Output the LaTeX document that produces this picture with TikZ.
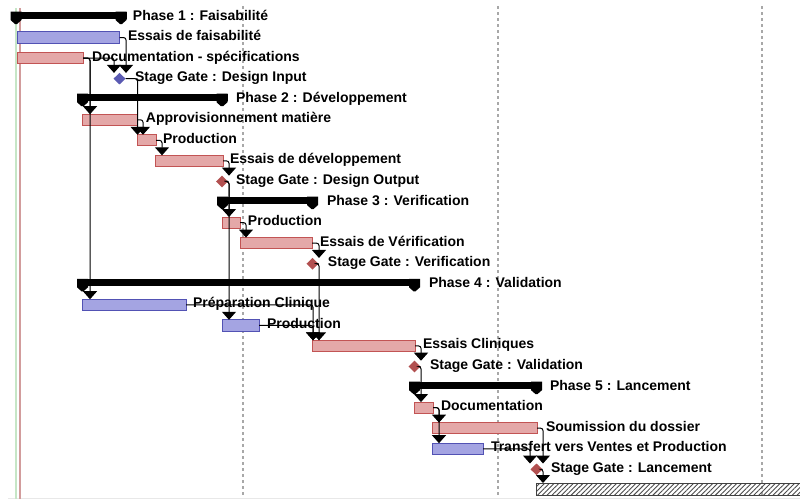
\documentclass[tikz,border=0pt]{standalone}
\usepackage{fontspec}
\setmainfont{Liberation Sans}
\usetikzlibrary{arrows.meta,shapes.geometric,patterns.meta}
\definecolor{bfill}{HTML}{A4A4E2}
\definecolor{bline}{HTML}{5252B4}
\definecolor{rfill}{HTML}{E4A8A8}
\definecolor{rline}{HTML}{C25454}
\definecolor{bdia}{HTML}{5A5AB2}
\definecolor{rdia}{HTML}{B25050}
\definecolor{todayc}{HTML}{D29C9C}
\definecolor{startc}{HTML}{C6E6C6}
\definecolor{gridc}{HTML}{A8A8A8}
\newcommand\gTask[5]{% name, x1, x2, row, style
  \node[#5, minimum width={(#3-#2)*0.5pt}] (#1) at ({(#2+#3)/2},{15.5+20.56*#4+1.5}) {};}
\newcommand\gMile[4]{% name, x, row, style
  \node[#4] (#1) at (#2,{15.5+20.56*#3+1.5}) {};}
\newcommand\gLab[4]{% name, x, row, text
  \node[lab] (#1) at (#2,{15.5+20.56*#3+4.5}) {#4};}
\newcommand\gSum[4]{% name, xstart, xend, row
  \pgfmathsetmacro\rY{15.5+20.56*#4}
  \node[sumb, minimum width={(#3-#2+11)*0.5pt}] (#1) at ({(#2+#3)/2},{\rY-0.5}) {};
  \fill ({#2-5.5},{\rY-4}) -- ({#2+5.5},{\rY-4}) -- ({#2+5.5},{\rY+4.5}) -- ({#2+1},{\rY+8.5}) -- ({#2-1},{\rY+8.5}) -- ({#2-5.5},{\rY+4.5}) -- cycle;
  \fill ({#3-5.5},{\rY-4}) -- ({#3+5.5},{\rY-4}) -- ({#3+5.5},{\rY+4.5}) -- ({#3+1},{\rY+8.5}) -- ({#3-1},{\rY+8.5}) -- ({#3-5.5},{\rY+4.5}) -- cycle;}
\newcommand\gLink[3]{% from, to, arrow x
  \draw[link] (#1.east) -| (#3,0 |- #2.north);}
\begin{document}
\begin{tikzpicture}[x=0.5pt,y=-0.5pt,
  lab/.style={anchor=base west, inner sep=0pt, outer sep=0pt, font=\fontsize{7pt}{8pt}\selectfont\bfseries},
  bluebar/.style={draw=bline, fill=bfill, line width=0.5pt, inner sep=0pt, outer sep=0pt, minimum height=5.6pt},
  redbar/.style={draw=rline, fill=rfill, line width=0.5pt, inner sep=0pt, outer sep=0pt, minimum height=5.6pt},
  bluems/.style={diamond, fill=bdia, inner sep=0pt, outer sep=0pt, minimum width=6pt, minimum height=5.8pt},
  redms/.style={diamond, fill=rdia, inner sep=0pt, outer sep=0pt, minimum width=6pt, minimum height=5.8pt},
  sumb/.style={fill=black, inner sep=0pt, outer sep=0pt, minimum height=3.5pt},
  finbar/.style={pattern={Lines[angle=45,distance=1.7pt,line width=0.45pt]}, pattern color=black!70, inner sep=0pt, outer sep=0pt, minimum height=6pt},
  link/.style={line width=0.5pt, rounded corners=1.2pt, -{Triangle[width=7pt,length=4pt]}},
  gridv/.style={gridc, line width=0.8pt, dash pattern=on 1.5pt off 1.5pt}]
\useasboundingbox (0,0) rectangle (800,499);
\fill[white] (0,0) rectangle (800,499);
% background lines
\draw[gridv] (243,6) -- (243,499);
\draw[gridv] (498,6) -- (498,499);
\draw[gridv] (762,6) -- (762,499);
\draw[black!9, line width=0.5pt] (8,498) -- (800,498);
\draw[startc, line width=1pt] (16,8) -- (16,499);
\draw[todayc, line width=1pt] (20,8) -- (20,499);
% summary bars
\gSum{phA}{16}{121}{0}
\gSum{phB}{82.5}{222}{4}
\gSum{phC}{222.5}{312.5}{9}
\gSum{phD}{82.5}{414.5}{13}
\gSum{phE}{414.5}{536.5}{18}
% tasks
\gTask{essF}{17.5}{119.5}{1}{bluebar}
\gTask{docS}{17.5}{83}{2}{redbar}
\gMile{sgDI}{119.5}{3}{bluems}
\gTask{appro}{82}{137}{5}{redbar}
\gTask{prodA}{137}{156}{6}{redbar}
\gTask{essDev}{155.5}{223}{7}{redbar}
\gMile{sgDO}{222}{8}{redms}
\gTask{prodB}{222}{240}{10}{redbar}
\gTask{essVer}{240}{312}{11}{redbar}
\gMile{sgVer}{312.5}{12}{redms}
\gTask{prepC}{82}{186}{14}{bluebar}
\gTask{prodC}{222}{259}{15}{bluebar}
\gTask{essCl}{312}{415}{16}{redbar}
\gMile{sgVal}{414.5}{17}{redms}
\gTask{docE}{414}{433}{19}{redbar}
\gTask{soum}{432}{537}{20}{redbar}
\gTask{transf}{432}{483}{21}{bluebar}
\gMile{sgLan}{536.5}{22}{redms}
\node[finbar, minimum width=134pt] (fin) at (670,489) {};
\draw[black!75, line width=0.5pt] (fin.north east) -- (fin.north west) -- (fin.south west) -- (fin.south east);
% links
\gLink{docS}{sgDI}{114}
\gLink{essF}{sgDI}{126}
\gLink{docS}{appro}{90}
\gLink{docS}{prepC}{90}
\gLink{sgDI}{prodA}{137.5}
\gLink{appro}{prodA}{143}
\gLink{prodA}{essDev}{162}
\gLink{essDev}{sgDO}{229}
\gLink{sgDO}{prodB}{229}
\gLink{sgDO}{prodC}{229}
\gLink{prodB}{essVer}{246}
\gLink{essVer}{sgVer}{319}
\gLink{sgVer}{essCl}{319}
\gLink{prepC}{essCl}{313}
\gLink{prodC}{essCl}{313}
\gLink{essCl}{sgVal}{421}
\gLink{sgVal}{docE}{421}
\gLink{docE}{soum}{439}
\gLink{docE}{transf}{439}
\gLink{soum}{sgLan}{543}
\gLink{transf}{sgLan}{530}
\gLink{sgLan}{fin}{543}
% labels
\gLab{t0}{133}{0}{Phase 1 : Faisabilité}
\gLab{t1}{128}{1}{Essais de faisabilité}
\gLab{t2}{92}{2}{Documentation - spécifications}
\gLab{t3}{135}{3}{Stage Gate : Design Input}
\gLab{t4}{236}{4}{Phase 2 : Développement}
\gLab{t5}{146}{5}{Approvisionnement matière}
\gLab{t6}{163}{6}{Production}
\gLab{t7}{230}{7}{Essais de développement}
\gLab{t8}{236}{8}{Stage Gate : Design Output}
\gLab{t9}{327}{9}{Phase 3 : Verification}
\gLab{t10}{248}{10}{Production}
\gLab{t11}{320}{11}{Essais de Vérification}
\gLab{t12}{328}{12}{Stage Gate : Verification}
\gLab{t13}{429}{13}{Phase 4 : Validation}
\gLab{t14}{193}{14}{Préparation Clinique}
\gLab{t15}{267}{15}{Production}
\gLab{t16}{423}{16}{Essais Cliniques}
\gLab{t17}{430}{17}{Stage Gate : Validation}
\gLab{t18}{550}{18}{Phase 5 : Lancement}
\gLab{t19}{441}{19}{Documentation}
\gLab{t20}{546}{20}{Soumission du dossier}
\gLab{t21}{491}{21}{Transfert vers Ventes et Production}
\gLab{t22}{551}{22}{Stage Gate : Lancement}
\end{tikzpicture}
\end{document}
